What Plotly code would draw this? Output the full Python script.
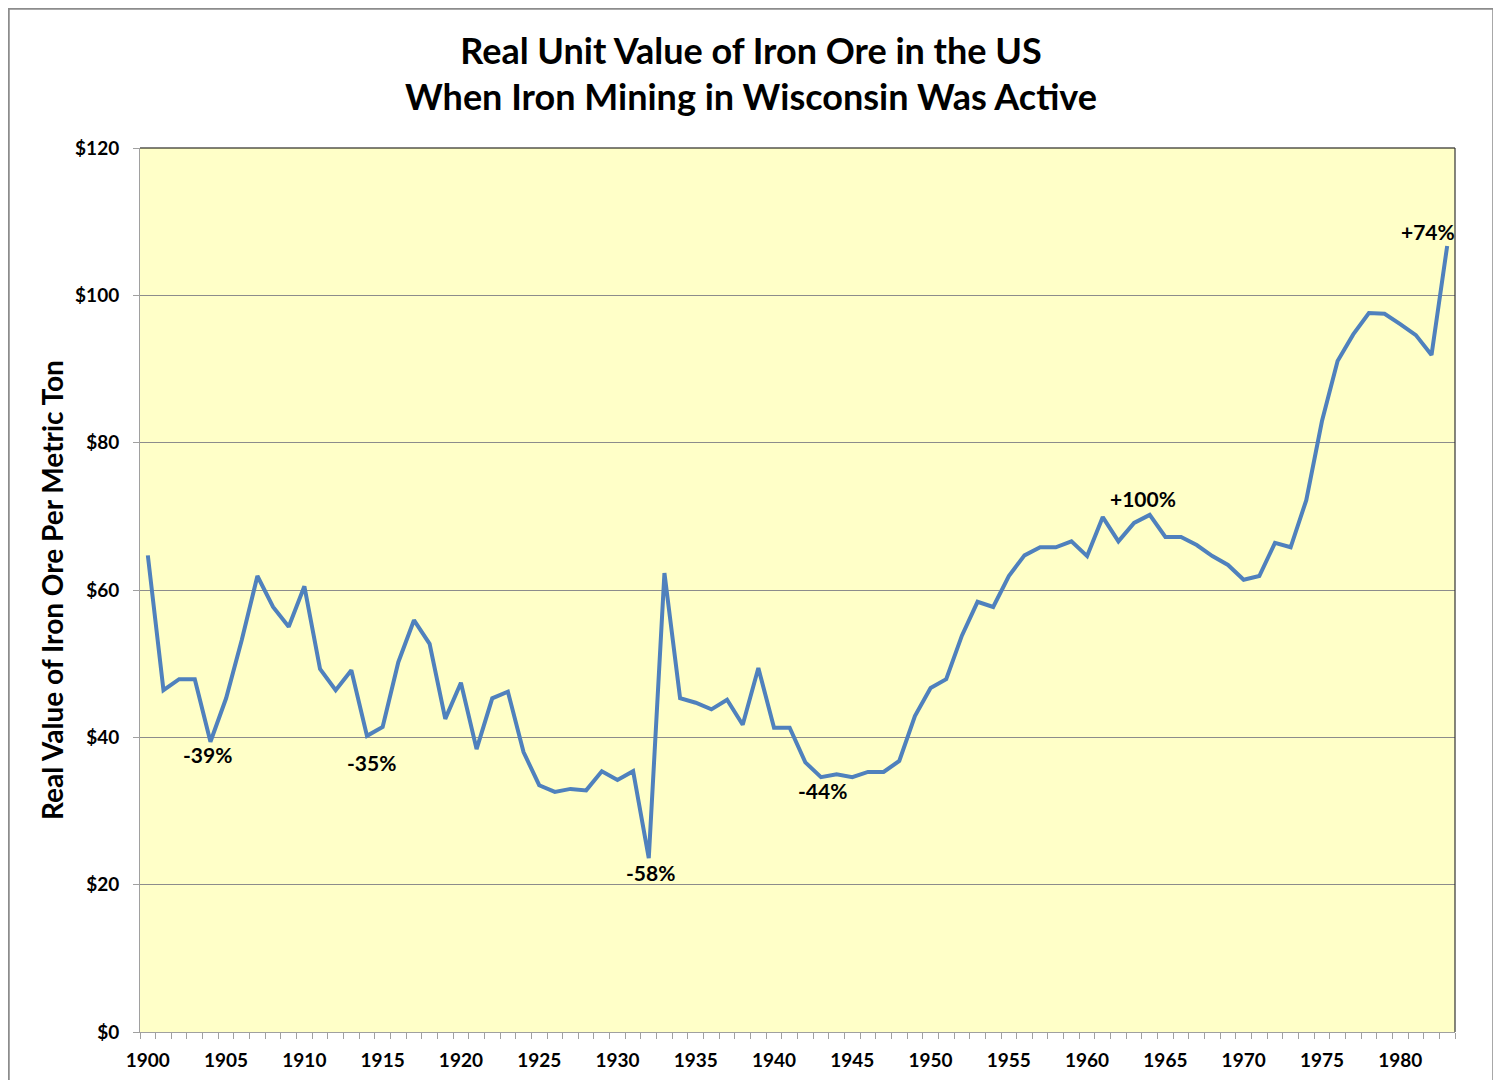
import plotly.graph_objects as go

years = list(range(1900, 1984))
values = [
    64.7, 46.4, 47.9, 47.9, 39.4, 45.3, 53.2, 61.9, 57.7, 55.0,
    60.5, 49.3, 46.4, 49.1, 40.2, 41.4, 50.2, 55.9, 52.7, 42.5,
    47.4, 38.4, 45.3, 46.2, 38.0, 33.5, 32.6, 33.0, 32.8, 35.4,
    34.2, 35.4, 23.6, 62.3, 45.3, 44.7, 43.8, 45.1, 41.7, 49.4,
    41.3, 41.3, 36.6, 34.6, 35.0, 34.6, 35.3, 35.3, 36.8, 42.9,
    46.7, 47.9, 53.8, 58.4, 57.7, 61.9, 64.7, 65.8, 65.8, 66.6,
    64.6, 69.9, 66.6, 69.1, 70.2, 67.2, 67.2, 66.1, 64.6, 63.4,
    61.4, 61.9, 66.4, 65.8, 72.2, 82.9, 91.1, 94.7, 97.6, 97.5,
    96.1, 94.6, 91.9, 106.7,
]

label_texts = ["-39%", "-35%", "-58%", "-44%", "+100%", "+74%"]
label_x = [1903.8, 1914.3, 1932.1, 1943.1, 1963.6, 1981.8]
label_y = [37.7, 36.6, 21.6, 32.8, 72.4, 108.7]

y_ticks = [0, 20, 40, 60, 80, 100, 120]
y_tick_text = ["$" + str(v) for v in y_ticks]
x_ticks = list(range(1900, 1985, 5))

FONT = "Lato, 'Open Sans', sans-serif"

# figure coordinates (page body adds an 8px offset)
W, H = 1486, 1080
L, R, T, B = 132, 1447, 140, 1024
pw, ph = R - L, B - T


def px(x):
    return (x - L) / pw


def py(y):
    return (B - y) / ph


fig = go.Figure()
fig.add_trace(go.Scatter(
    x=years, y=values, mode="lines",
    line=dict(color="#4F81BD", width=4),
    hoverinfo="x+y", showlegend=False,
))

for t, xx, yy in zip(label_texts, label_x, label_y):
    fig.add_annotation(x=xx, y=yy, text="<b>" + t + "</b>", showarrow=False,
                       font=dict(family=FONT, size=21, color="#000000"))

# y axis title
fig.add_annotation(xref="paper", yref="paper", x=px(44), y=0.5,
                   text="<b>Real Value of Iron Ore Per Metric Ton</b>",
                   textangle=-90, showarrow=False, xanchor="center", yanchor="middle",
                   font=dict(family=FONT, size=28, color="#000000"))

# outer chart border
fig.add_shape(type="rect", xref="paper", yref="paper",
              x0=px(0.5), x1=px(W - 0.5), y0=py(H + 10), y1=py(0.5),
              line=dict(color="#8C8C8C", width=2.5), layer="below")
# top and right plot border
fig.add_shape(type="line", xref="paper", yref="paper", x0=0, x1=1, y0=1, y1=1,
              line=dict(color="#000000", width=1.2))
fig.add_shape(type="line", xref="paper", yref="paper", x0=1, x1=1, y0=0, y1=1,
              line=dict(color="#333333", width=1.2))

fig.update_layout(
    width=W, height=H,
    margin=dict(l=L, r=W - R, t=T, b=H - B, pad=0),
    paper_bgcolor="#FFFFFF",
    plot_bgcolor="#FFFFC8",
    title=dict(
        text="<b>Real Unit Value of Iron Ore in the US<br>When Iron Mining in Wisconsin Was Active</b>",
        x=0.5, xanchor="center", y=1 - 55.5 / H, yanchor="middle",
        font=dict(family=FONT, size=36, color="#000000"),
    ),
    font=dict(family=FONT, color="#000000"),
)

fig.update_xaxes(
    range=[1899.5, 1983.5],
    tickvals=x_ticks, ticktext=[str(v) for v in x_ticks],
    ticks="", showgrid=False, zeroline=False,
    showline=True, linecolor="#A0A0A0", linewidth=1,
    ticklabelstandoff=11,
    tickfont=dict(family=FONT, size=19, color="#000000", weight="bold"),
    minor=dict(tick0=1899.5, dtick=1, ticks="outside", ticklen=6,
               tickcolor="#A0A0A0", showgrid=False),
)
fig.update_yaxes(
    range=[0, 120],
    tickvals=y_ticks, ticktext=y_tick_text,
    ticks="outside", ticklen=6, tickcolor="#A0A0A0",
    showgrid=True, gridcolor="#8C8C8C", gridwidth=1,
    zeroline=False, showline=True, linecolor="#A0A0A0", linewidth=1,
    ticklabelstandoff=10,
    tickfont=dict(family=FONT, size=19, color="#000000", weight="bold"),
)

fig.write_html("out.html")
